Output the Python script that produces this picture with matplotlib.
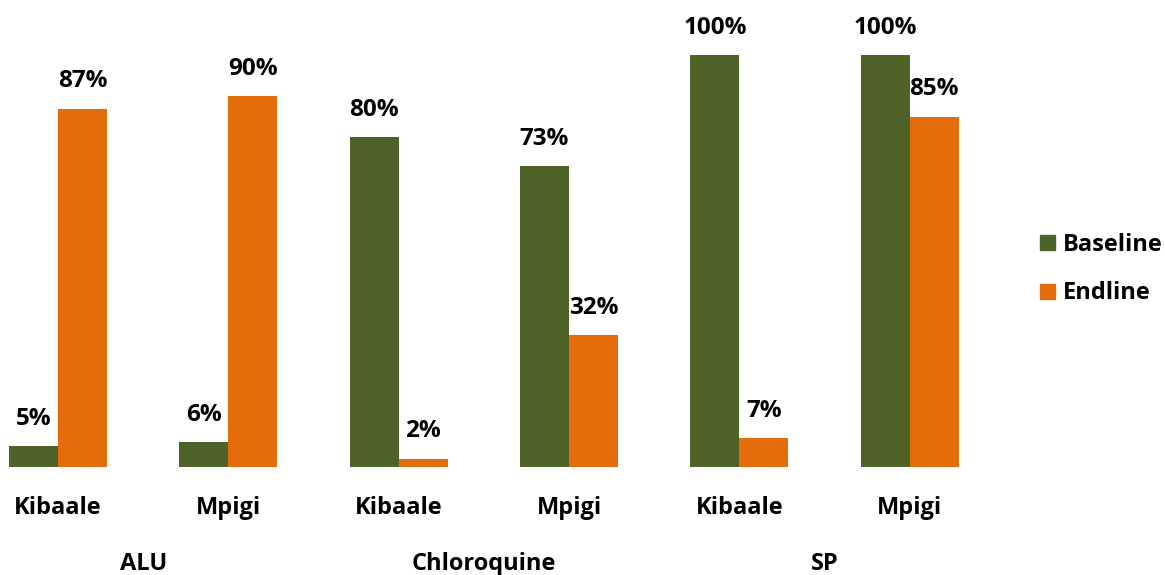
import numpy as np
import matplotlib.pyplot as plt
from matplotlib.patches import Patch

# districts and drug groups
districts = ['Kibaale', 'Mpigi', 'Kibaale', 'Mpigi', 'Kibaale', 'Mpigi']
drugs = ['ALU', 'Chloroquine', 'SP']
baseline = [5, 6, 80, 73, 100, 100]
endline = [87, 90, 2, 32, 7, 85]

green = '#4F6228'
orange = '#E46C0A'

plt.rcParams['font.family'] = ['Open Sans', 'DejaVu Sans']
plt.rcParams['font.weight'] = 'bold'

fig = plt.figure(figsize=(11.65, 5.75), dpi=100)
ax = fig.add_axes([0.0, 0.188, 0.854, 0.788])

x = np.arange(len(districts))
w = 0.288
b1 = ax.bar(x - w / 2, baseline, w, color=green, label='Baseline')
b2 = ax.bar(x + w / 2, endline, w, color=orange, label='Endline')

for bars, vals in [(b1, baseline), (b2, endline)]:
    for rect, v in zip(bars, vals):
        ax.annotate('%d%%' % v, (rect.get_x() + rect.get_width() / 2, v),
                    xytext=(0, 11), textcoords='offset points',
                    ha='center', va='bottom', fontsize=17.5, fontweight='bold',
                    annotation_clip=False)

ax.set_xlim(-0.341, 5.5)
ax.set_ylim(0, 110)
ax.set_yticks([])
ax.set_xticks(x)
ax.set_xticklabels(districts, fontsize=17, fontweight='bold')
ax.tick_params(axis='x', length=0, pad=21)
for s in ax.spines.values():
    s.set_visible(False)

# drug names under each pair of districts
for i, d in enumerate(drugs):
    ax.text(2 * i + 0.5, -0.214, d, transform=ax.get_xaxis_transform(),
            ha='center', va='center', fontsize=17, fontweight='bold')

handles = [Patch(color=green, label='Baseline'), Patch(color=orange, label='Endline')]
fig.legend(handles=handles, loc='center left', bbox_to_anchor=(0.885, 0.532),
           frameon=False, handlelength=0.62, handleheight=0.62,
           handletextpad=0.35, labelspacing=1.05, borderaxespad=0.0,
           prop={'weight': 'bold', 'size': 17})

fig.savefig('out.png', dpi=100)
